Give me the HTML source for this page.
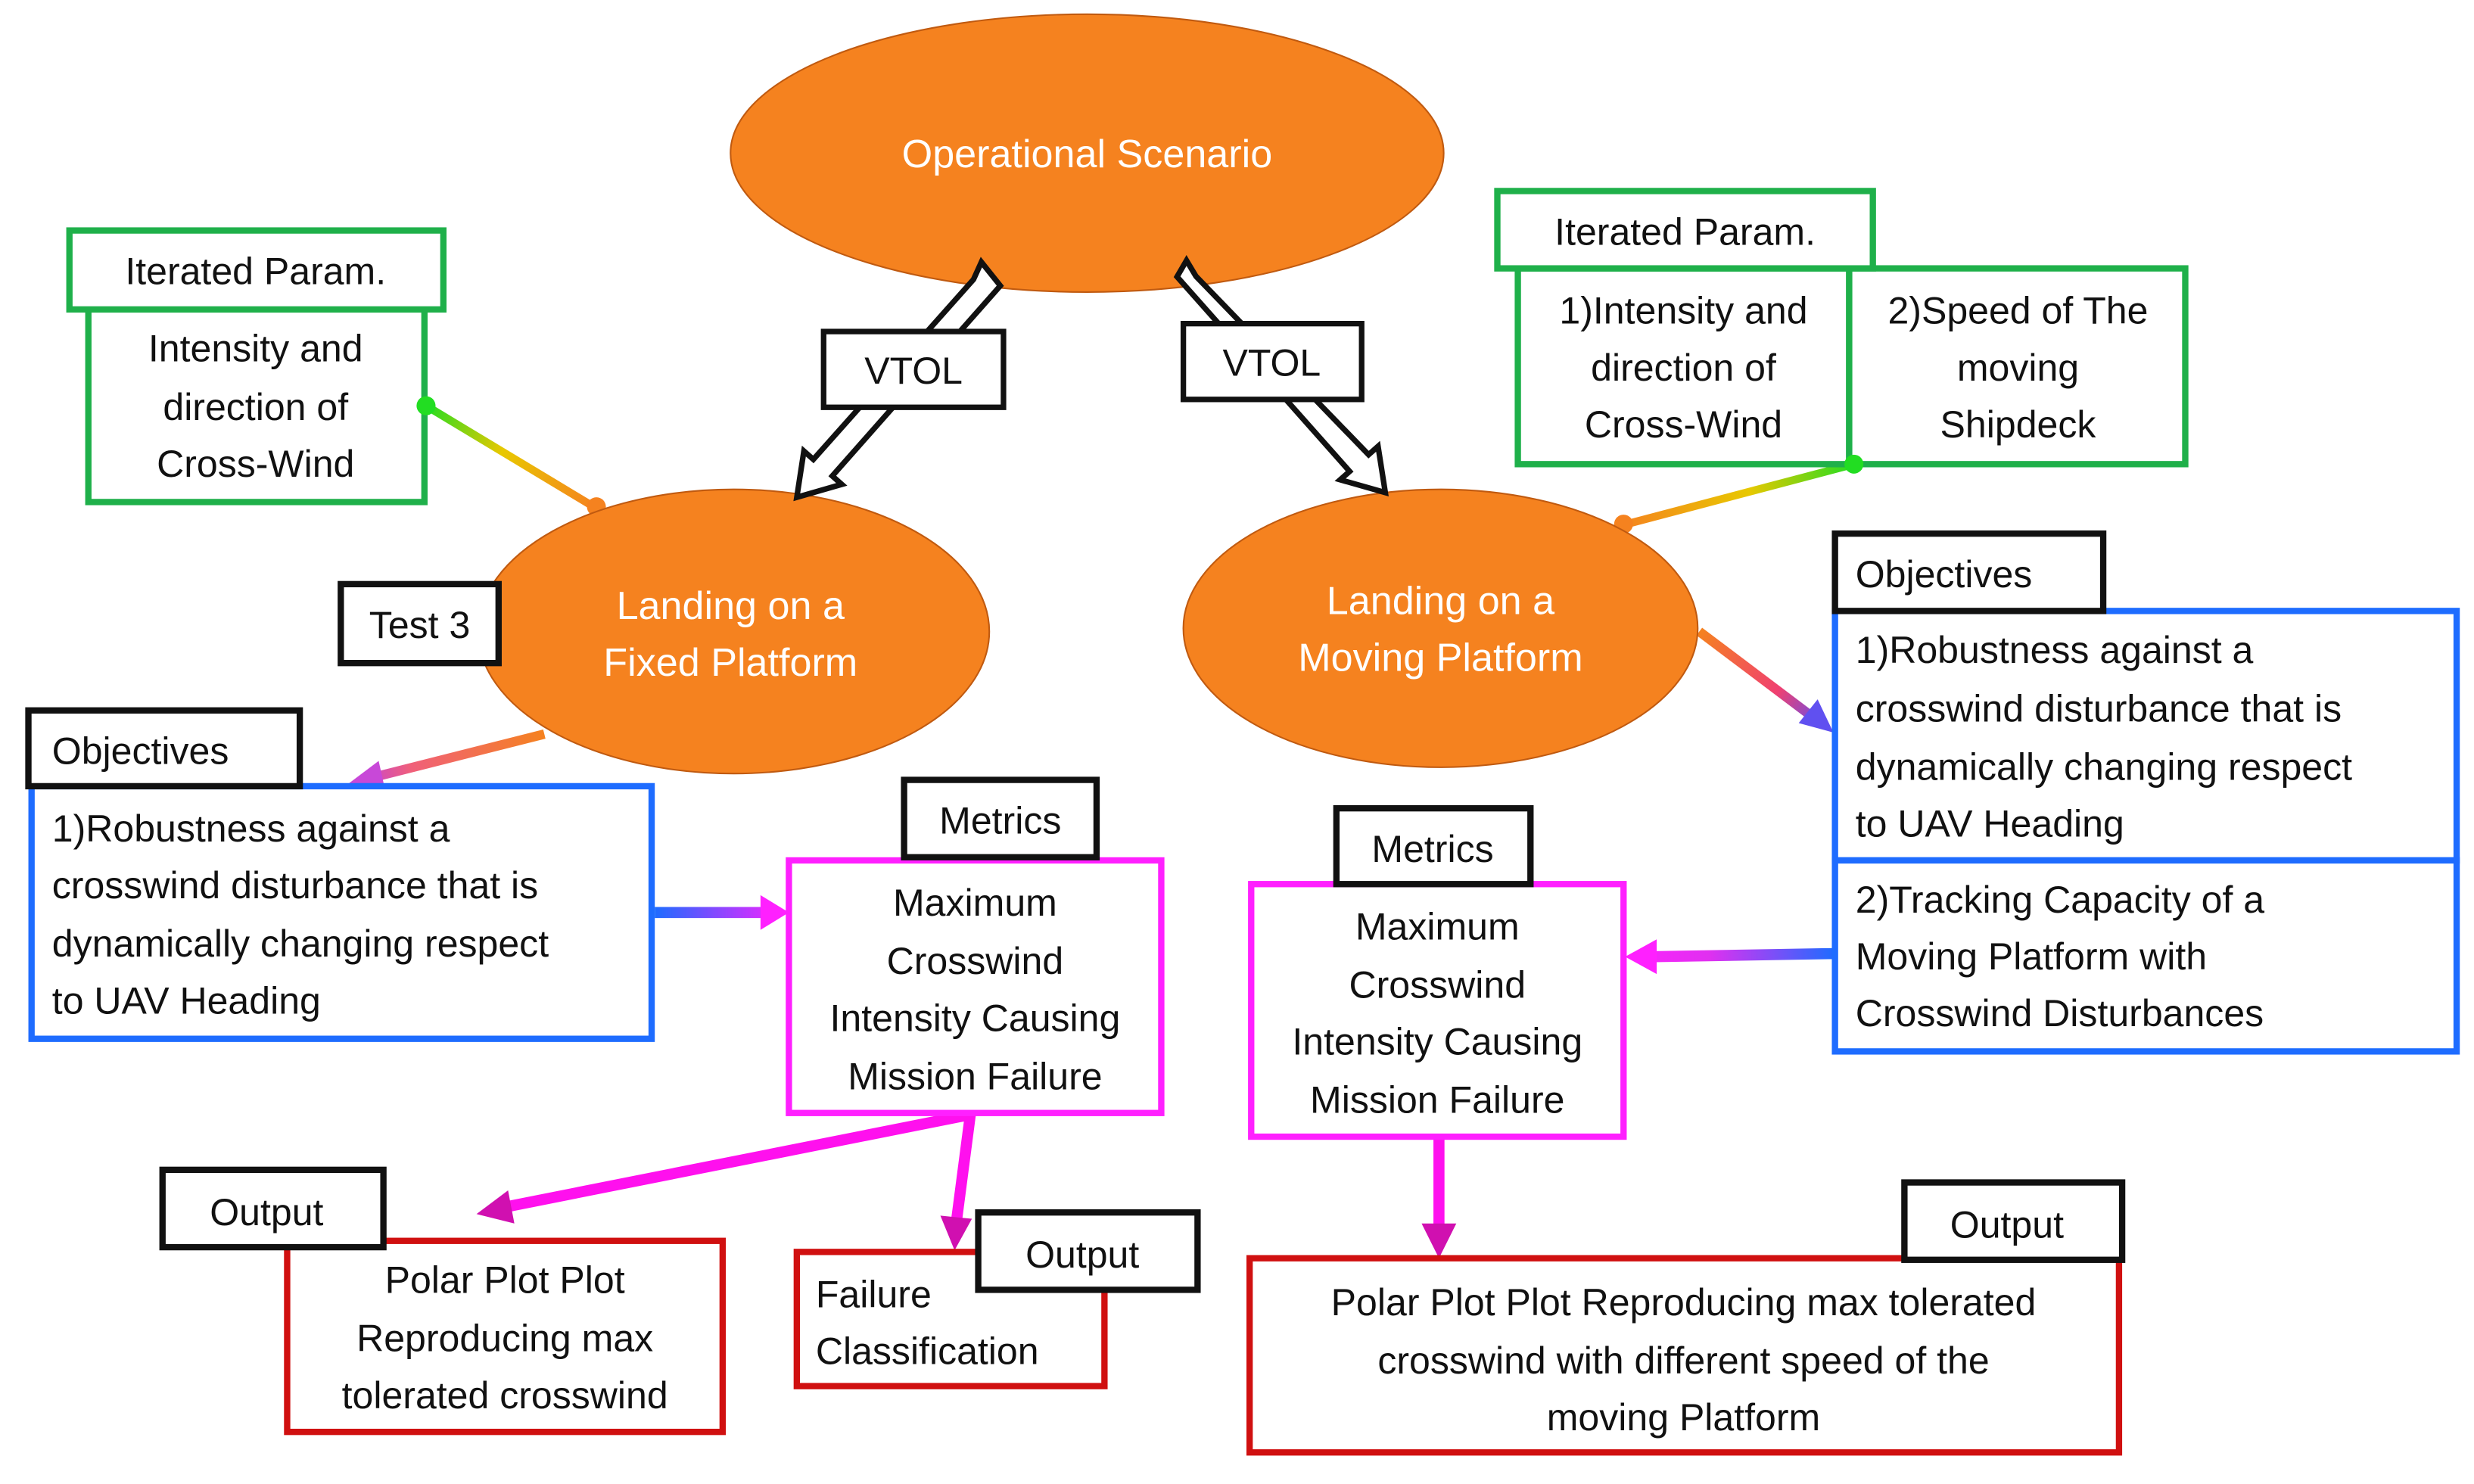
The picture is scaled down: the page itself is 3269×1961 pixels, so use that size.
<!DOCTYPE html>
<html><head><meta charset="utf-8"><style>
html,body{margin:0;padding:0;background:#fff;}
svg{display:block;}
text{font-family:"Liberation Sans Narrow","Liberation Sans",sans-serif;font-size:24px;fill:#111;}
.w{fill:#fff;font-size:25px;}
.c{text-anchor:middle;}
</style></head><body>
<svg width="3269" height="1961" viewBox="0 0 1568 940" preserveAspectRatio="none" xmlns="http://www.w3.org/2000/svg">
<defs>
<linearGradient id="g1" gradientUnits="userSpaceOnUse" x1="270" y1="257" x2="378" y2="320"><stop offset="0" stop-color="#22dd22"/><stop offset="0.45" stop-color="#e8c800"/><stop offset="1" stop-color="#f5821f"/></linearGradient>
<linearGradient id="g2" gradientUnits="userSpaceOnUse" x1="1175" y1="294" x2="1027" y2="332"><stop offset="0" stop-color="#22dd22"/><stop offset="0.45" stop-color="#e8c800"/><stop offset="1" stop-color="#f5821f"/></linearGradient>
<linearGradient id="g3" gradientUnits="userSpaceOnUse" x1="345" y1="465" x2="225" y2="497"><stop offset="0" stop-color="#f5821f"/><stop offset="0.7" stop-color="#f0607a"/><stop offset="1" stop-color="#c040e0"/></linearGradient>
<linearGradient id="g4" gradientUnits="userSpaceOnUse" x1="1077" y1="400" x2="1160" y2="462"><stop offset="0" stop-color="#f5821f"/><stop offset="0.6" stop-color="#f04070"/><stop offset="1" stop-color="#5050ff"/></linearGradient>
<linearGradient id="g5" gradientUnits="userSpaceOnUse" x1="415" y1="578" x2="500" y2="578"><stop offset="0" stop-color="#1e6cff"/><stop offset="1" stop-color="#ff20ff"/></linearGradient>
<linearGradient id="g6" gradientUnits="userSpaceOnUse" x1="1163" y1="604" x2="1030" y2="606"><stop offset="0" stop-color="#1e6cff"/><stop offset="0.6" stop-color="#e030f0"/><stop offset="1" stop-color="#ff20ff"/></linearGradient>
</defs>
<rect width="1568" height="940" fill="#fff"/>

<!-- connectors -->
<line x1="270" y1="257" x2="378" y2="322" stroke="url(#g1)" stroke-width="5"/>
<circle cx="270" cy="257" r="6" fill="#22dd22"/>
<circle cx="378" cy="321" r="6" fill="#f5821f"/>
<line x1="1175" y1="294" x2="1027" y2="333" stroke="url(#g2)" stroke-width="5"/>
<circle cx="1029" cy="332" r="6" fill="#f5821f"/>
<line x1="345" y1="465" x2="238" y2="492" stroke="url(#g3)" stroke-width="6"/>
<polygon points="220,497 240,482 244,500" fill="#c848d8"/>
<line x1="1077" y1="400" x2="1150" y2="455" stroke="url(#g4)" stroke-width="6"/>
<polygon points="1162,464 1140,458 1152,443" fill="#6050f0"/>
<line x1="415" y1="578" x2="484" y2="578" stroke="url(#g5)" stroke-width="7"/>
<polygon points="500,578 482,567 482,589" fill="#ff20ff"/>
<line x1="1163" y1="604" x2="1048" y2="606" stroke="url(#g6)" stroke-width="7"/>
<polygon points="1030,606 1050,595 1050,617" fill="#ff20ff"/>
<line x1="615" y1="706" x2="318" y2="765" stroke="#ff10ee" stroke-width="7"/>
<polygon points="302,769 322,754 326,775" fill="#d010b0"/>
<line x1="615" y1="706" x2="606" y2="775" stroke="#ff10ee" stroke-width="7"/>
<polygon points="605,792 596,770 616,772" fill="#d010b0"/>
<line x1="912" y1="720" x2="912" y2="780" stroke="#ff10ee" stroke-width="7"/>
<polygon points="912,797 901,775 923,775" fill="#d010b0"/>

<!-- ellipses -->
<ellipse cx="689" cy="97" rx="226" ry="88" fill="#f5821f" stroke="#c05a10" stroke-width="1"/>
<text x="689" y="106" class="w c">Operational Scenario</text>
<ellipse cx="465" cy="400" rx="162" ry="90" fill="#f5821f" stroke="#c05a10" stroke-width="1"/>
<text x="463" y="392" class="w c">Landing on a</text>
<text x="463" y="428" class="w c">Fixed Platform</text>
<ellipse cx="913" cy="398" rx="163" ry="88" fill="#f5821f" stroke="#c05a10" stroke-width="1"/>
<text x="913" y="389" class="w c">Landing on a</text>
<text x="913" y="425" class="w c">Moving Platform</text>

<!-- hollow arrows on top -->
<polygon points="622,166 634,181 527.5,301.5 533.5,306.8 505,315 509.5,285.7 515.5,291 617,177" fill="#fff" stroke="#111" stroke-width="3.5" stroke-linejoin="miter"/>
<polygon points="752,165 758,175 867.4,288 873.4,282.7 878,312 849.4,303.9 855.4,298.6 746,175.3" fill="#fff" stroke="#111" stroke-width="3.5"/>

<g fill="#fff" stroke="#111" stroke-width="3.5">
<rect x="522" y="210" width="114" height="48"/>
<rect x="750" y="205" width="113" height="48"/>
</g>
<text x="579" y="243" class="c">VTOL</text>
<text x="806" y="238" class="c">VTOL</text>

<!-- left iterated param -->
<rect x="56" y="196" width="213" height="122" fill="#fff" stroke="#1fb04a" stroke-width="4"/>
<rect x="44" y="146" width="237" height="50" fill="#fff" stroke="#1fb04a" stroke-width="4"/>
<text x="162" y="180" class="c">Iterated Param.</text>
<text x="162" y="229" class="c">Intensity and</text>
<text x="162" y="266" class="c">direction of</text>
<text x="162" y="302" class="c">Cross-Wind</text>
<circle cx="270" cy="257" r="6" fill="#22dd22"/>

<!-- right iterated param -->
<rect x="962" y="170" width="210" height="124" fill="#fff" stroke="#1fb04a" stroke-width="4"/>
<rect x="1172" y="170" width="213" height="124" fill="#fff" stroke="#1fb04a" stroke-width="4"/>
<rect x="949" y="121" width="238" height="49" fill="#fff" stroke="#1fb04a" stroke-width="4"/>
<text x="1068" y="155" class="c">Iterated Param.</text>
<text x="1067" y="205" class="c">1)Intensity and</text>
<text x="1067" y="241" class="c">direction of</text>
<text x="1067" y="277" class="c">Cross-Wind</text>
<text x="1279" y="205" class="c">2)Speed of The</text>
<text x="1279" y="241" class="c">moving</text>
<text x="1279" y="277" class="c">Shipdeck</text>
<circle cx="1175" cy="294" r="6" fill="#22dd22"/>

<!-- Test 3 -->
<rect x="216" y="370" width="100" height="50" fill="#fff" stroke="#111" stroke-width="4"/>
<text x="266" y="404" class="c">Test 3</text>

<!-- left objectives -->
<rect x="20" y="498" width="393" height="160" fill="#fff" stroke="#1e6cff" stroke-width="4"/>
<rect x="18" y="450" width="172" height="48" fill="#fff" stroke="#111" stroke-width="4"/>
<text x="33" y="484">Objectives</text>
<text x="33" y="533">1)Robustness against a</text>
<text x="33" y="569">crosswind disturbance that is</text>
<text x="33" y="606">dynamically changing respect</text>
<text x="33" y="642">to UAV Heading</text>

<!-- left metrics -->
<rect x="500" y="545" width="236" height="160" fill="#fff" stroke="#ff20ff" stroke-width="4"/>
<rect x="573" y="494" width="122" height="49" fill="#fff" stroke="#111" stroke-width="4"/>
<text x="634" y="528" class="c">Metrics</text>
<text x="618" y="580" class="c">Maximum</text>
<text x="618" y="617" class="c">Crosswind</text>
<text x="618" y="653" class="c">Intensity Causing</text>
<text x="618" y="690" class="c">Mission Failure</text>

<!-- right objectives -->
<rect x="1163" y="387" width="394" height="158" fill="#fff" stroke="#1e6cff" stroke-width="4"/>
<rect x="1163" y="545" width="394" height="121" fill="#fff" stroke="#1e6cff" stroke-width="4"/>
<rect x="1163" y="338" width="170" height="49" fill="#fff" stroke="#111" stroke-width="4"/>
<text x="1176" y="372">Objectives</text>
<text x="1176" y="420">1)Robustness against a</text>
<text x="1176" y="457">crosswind disturbance that is</text>
<text x="1176" y="494">dynamically changing respect</text>
<text x="1176" y="530">to UAV Heading</text>
<text x="1176" y="578">2)Tracking Capacity of a</text>
<text x="1176" y="614">Moving Platform with</text>
<text x="1176" y="650">Crosswind Disturbances</text>

<!-- right metrics -->
<rect x="793" y="560" width="236" height="160" fill="#fff" stroke="#ff20ff" stroke-width="4"/>
<rect x="847" y="512" width="123" height="48" fill="#fff" stroke="#111" stroke-width="4"/>
<text x="908" y="546" class="c">Metrics</text>
<text x="911" y="595" class="c">Maximum</text>
<text x="911" y="632" class="c">Crosswind</text>
<text x="911" y="668" class="c">Intensity Causing</text>
<text x="911" y="705" class="c">Mission Failure</text>

<!-- outputs -->
<rect x="182" y="786" width="276" height="121" fill="#fff" stroke="#d01010" stroke-width="4"/>
<rect x="103" y="741" width="140" height="49" fill="#fff" stroke="#111" stroke-width="4"/>
<text x="169" y="776" class="c">Output</text>
<text x="320" y="819" class="c">Polar Plot Plot</text>
<text x="320" y="856" class="c">Reproducing max</text>
<text x="320" y="892" class="c">tolerated crosswind</text>

<rect x="505" y="793" width="195" height="85" fill="#fff" stroke="#d01010" stroke-width="4"/>
<rect x="620" y="768" width="139" height="49" fill="#fff" stroke="#111" stroke-width="4"/>
<text x="686" y="803" class="c">Output</text>
<text x="517" y="828">Failure</text>
<text x="517" y="864">Classification</text>

<rect x="792" y="797" width="551" height="123" fill="#fff" stroke="#d01010" stroke-width="4"/>
<rect x="1207" y="749" width="138" height="49" fill="#fff" stroke="#111" stroke-width="4"/>
<text x="1272" y="784" class="c">Output</text>
<text x="1067" y="833" class="c">Polar Plot Plot Reproducing max tolerated</text>
<text x="1067" y="870" class="c">crosswind with different speed of the</text>
<text x="1067" y="906" class="c">moving Platform</text>
</svg>
</body></html>
